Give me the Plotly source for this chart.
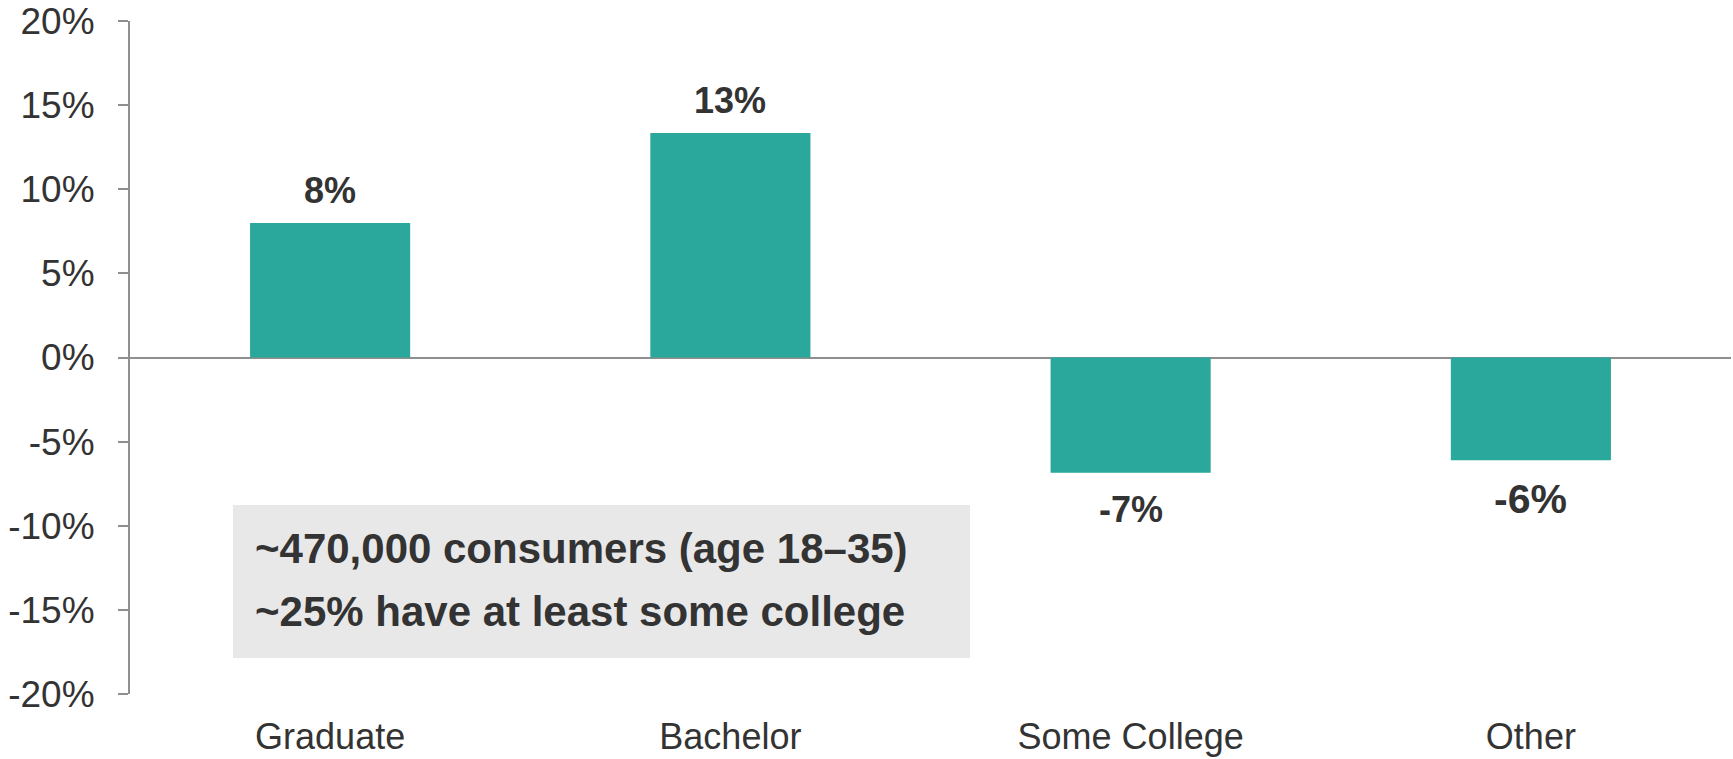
import plotly.graph_objects as go

categories = ["Graduate", "Bachelor", "Some College", "Other"]
values = [8.0, 13.35, -6.85, -6.1]
value_labels = ["8%", "13%", "-7%", "-6%"]
label_sizes = [36, 36, 36, 41]
y_ticks = [-20, -15, -10, -5, 0, 5, 10, 15, 20]
y_tick_labels = [f"{v}%" for v in y_ticks]
note_lines = ["~470,000 consumers (age 18–35)", "~25% have at least some college"]

BAR = "#29a89b"
AXIS = "#8f8f8f"
TXT = "#333333"
FONT = "Liberation Sans, Arial, sans-serif"

fig = go.Figure()
fig.add_trace(go.Bar(x=categories, y=values, marker=dict(color=BAR, line=dict(width=0)),
                     hoverinfo="skip"))

# value labels
for c, v, t, s in zip(categories, values, value_labels, label_sizes):
    pos = v >= 0
    fig.add_annotation(x=c, y=v, text=t, showarrow=False,
                       yanchor="bottom" if pos else "top",
                       yshift=10 if pos else -14,
                       font=dict(family=FONT, size=s, color=TXT, weight="bold"))

# grey note box
fig.add_shape(type="rect", xref="paper", yref="paper",
              x0=0.0643, x1=0.5247, y0=0.0535, y1=0.2808,
              fillcolor="#e8e8e8", line=dict(width=0), layer="below")
for line, yy in zip(note_lines, [0.2155, 0.1233]):
    fig.add_annotation(xref="paper", yref="paper", x=0.0768, y=yy, text=line,
                       showarrow=False, xanchor="left", yanchor="middle",
                       font=dict(family=FONT, size=42, color=TXT, weight="bold"))

fig.update_layout(
    width=1733, height=759,
    margin=dict(l=130, r=2, t=21, b=65),
    paper_bgcolor="white", plot_bgcolor="white",
    bargap=0.6, showlegend=False,
    font=dict(family=FONT, color=TXT),
)
fig.update_xaxes(type="category", range=[-0.5, 3.5], showline=False, showgrid=False,
                 zeroline=False, ticks="", tickfont=dict(size=36, color=TXT),
                 ticklabelstandoff=18)
fig.update_yaxes(range=[-20, 20], tickvals=y_ticks, ticktext=y_tick_labels,
                 showgrid=False, showline=True, linecolor=AXIS, linewidth=2,
                 ticks="outside", ticklen=10, tickwidth=2, tickcolor=AXIS,
                 tickfont=dict(size=37, color=TXT), ticklabelstandoff=16,
                 zeroline=True, zerolinecolor=AXIS, zerolinewidth=2)

fig.write_html("out.html", config={"displayModeBar": False},
               post_script="document.body.style.margin='0';")
